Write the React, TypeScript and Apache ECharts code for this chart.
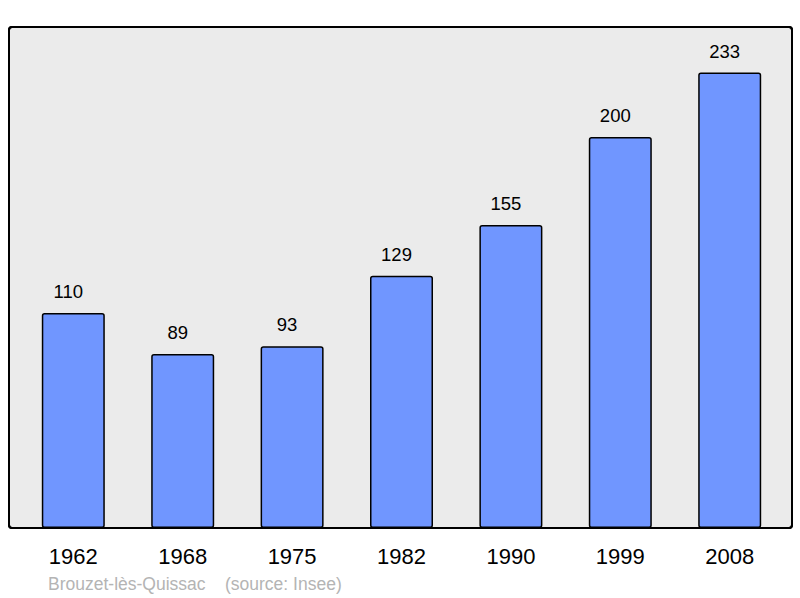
import React, { useEffect, useRef } from "react";
import * as echarts from "echarts";

const years = ["1962", "1968", "1975", "1982", "1990", "1999", "2008"];
const population = [110, 89, 93, 129, 155, 200, 233];
const footnote = "Brouzet-lès-Quissac    (source: Insee)";

export default function App() {
  const ref = useRef<HTMLDivElement>(null);
  useEffect(() => {
    if (!ref.current) return;
    const chart = echarts.init(ref.current, null, { renderer: "svg" });
    const maxVal = Math.max(...population);
    chart.setOption({
      animation: false,
      textStyle: { fontFamily: "Liberation Sans, Arial, sans-serif" },
      grid: { left: 18.6, right: 800 - 784.4, top: 27, bottom: 598 - 528, containLabel: false },
      xAxis: {
        type: "category",
        data: years,
        axisLine: { show: false },
        axisTick: { show: false },
        axisLabel: { fontSize: 22, color: "#000", margin: 17, fontFamily: "Liberation Sans, Arial, sans-serif" },
      },
      yAxis: {
        type: "value",
        min: 0,
        max: maxVal * 1.1,
        show: false,
        splitLine: { show: false },
      },
      graphic: [
        {
          type: "rect",
          z: -10,
          shape: { x: 9, y: 27, width: 783, height: 501, r: 3 },
          style: { fill: "#ebebeb", stroke: "#000", lineWidth: 2 },
          silent: true,
        },
        {
          type: "rect",
          z: 100,
          shape: { x: 9, y: 27, width: 783, height: 501, r: 3 },
          style: { fill: "none", stroke: "#000", lineWidth: 2 },
          silent: true,
        },
        {
          type: "text",
          x: 48,
          y: 584,
          style: {
            text: footnote,
            fontSize: 17.5,
            fill: "#b4b4b4",
            fontFamily: "Liberation Sans, Arial, sans-serif",
            textVerticalAlign: "middle",
          },
        },
      ],
      series: [
        {
          type: "bar",
          data: population,
          barWidth: 63,
          itemStyle: { color: "#7096ff", borderColor: "#000", borderWidth: 1.5, borderRadius: 2 },
          label: {
            show: true,
            position: "top",
            distance: 12,
            offset: [-5, 0],
            fontSize: 18.5,
            color: "#000",
            fontFamily: "Liberation Sans, Arial, sans-serif",
          },
        },
      ],
    });
    return () => chart.dispose();
  }, []);
  return <div ref={ref} style={{ width: 800, height: 598, position: "absolute", left: 0, top: 0 }} />;
}
